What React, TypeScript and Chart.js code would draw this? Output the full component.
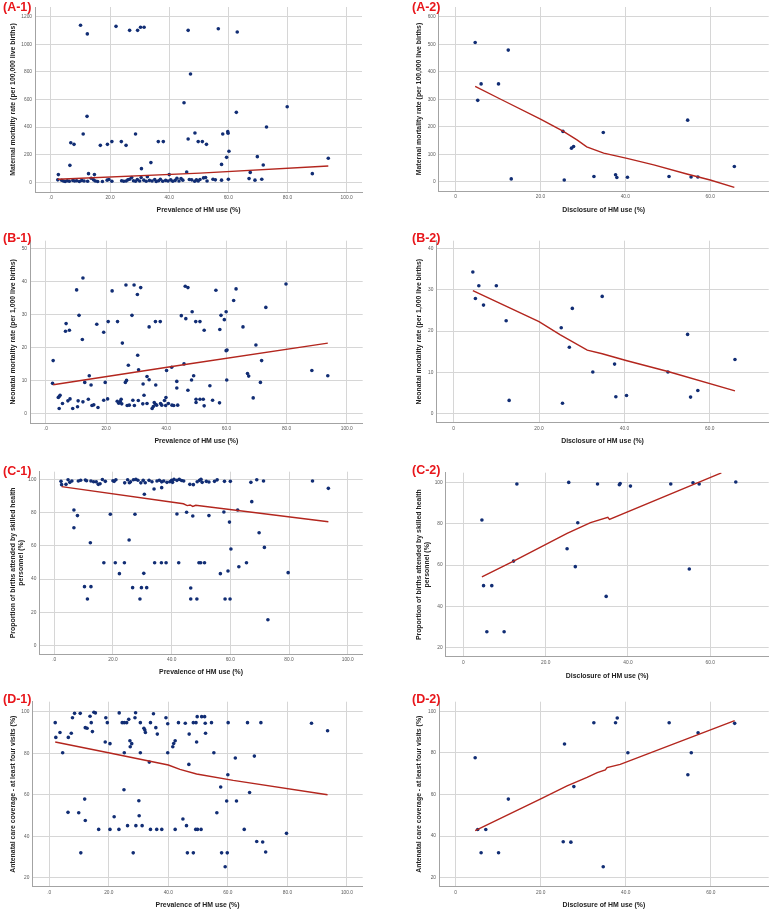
import React, { useEffect, useRef } from 'react';
import { Chart, registerables } from 'chart.js';

Chart.register(...registerables);

const FONT = '"Liberation Sans", Arial, sans-serif';
const POINT_COLOR = '#112d74';
const FIT_COLOR = '#b3261e';
const GRID_COLOR = '#d6d6d6';
const AXIS_COLOR = '#a3a3a3';
const LABEL_RED = '#e8161b';

// ---------- tick values & labels ----------
const xTicksPrev = [0, 20, 40, 60, 80, 100];
const xLabelsPrev = ['.0', '20.0', '40.0', '60.0', '80.0', '100.0'];
const xTicksDisc = [0, 20, 40, 60];
const xLabelsDisc = ['0', '20.0', '40.0', '60.0'];

const yTicksA1 = [0, 200, 400, 600, 800, 1000, 1200];
const yTicksA2 = [0, 100, 200, 300, 400, 500, 600];
const yTicksB1 = [0, 10, 20, 30, 40, 50];
const yTicksB2 = [0, 10, 20, 30, 40];
const yTicksC1 = [0, 20, 40, 60, 80, 100];
const yTicksC2 = [20, 40, 60, 80, 100];
const yTicksD = [20, 40, 60, 80, 100];

// ---------- titles ----------
const xTitlePrev = 'Prevalence of HM use (%)';
const xTitleDisc = 'Disclosure of HM use (%)';
const yTitleA = 'Maternal mortality rate (per 100,000 live births)';
const yTitleB = 'Neonatal mortality rate (per 1,000 live births)';
const yTitleC = ['Proportion of births attended by skilled health', 'personnel (%)'];
const yTitleD = 'Antenatal care coverage - at least four visits (%)';

// ---------- data: [HM use %, outcome] ----------
const a1Points = [
  [10.0, 1138], [12.3, 1075], [22.0, 1130], [26.6, 1101], [29.3, 1101], [30.3, 1123], [31.5, 1123], [46.4, 1101], [56.6, 1113], [63.0, 1089],
  [47.2, 785], [45.0, 577], [79.9, 548], [62.7, 507], [12.2, 478], [72.9, 401], [48.7, 357], [10.9, 350], [28.6, 350], [58.1, 350], [59.8, 367], [59.9, 355], [46.4, 314],
  [6.7, 287], [7.8, 275], [16.7, 268], [19.1, 275], [20.6, 295], [23.8, 295], [25.4, 268], [36.3, 295], [38.0, 295], [49.8, 295], [51.2, 295], [52.6, 275],
  [60.2, 225], [59.4, 181], [69.8, 186], [93.8, 174], [33.8, 143], [57.7, 130], [6.4, 123], [71.8, 126], [30.6, 99], [45.9, 75], [67.4, 72], [88.4, 63], [12.7, 63], [2.5, 56], [14.7, 56], [40.0, 56],
  [2.3, 18], [3.6, 15], [4.2, 10], [4.8, 6], [5.5, 12], [6.2, 8], [7.4, 14], [8.0, 10], [8.7, 12], [9.6, 6], [10.4, 14], [11.2, 10], [12.4, 8], [13.6, 30], [14.4, 18], [15.0, 10], [15.8, 6], [17.4, 6],
  [19.0, 16], [19.6, 20], [20.6, 8], [23.9, 12], [24.6, 8], [25.4, 10], [26.0, 18], [26.6, 22], [27.3, 35], [27.9, 12], [28.6, 8], [29.2, 20], [30.0, 10], [30.5, 35], [31.4, 16], [32.2, 8], [32.6, 40],
  [33.3, 14], [34.2, 10], [35.1, 20], [35.6, 6], [36.4, 12], [37.0, 22], [37.8, 8], [38.8, 14], [39.6, 10], [40.5, 18], [41.2, 8], [42.0, 14], [42.6, 30], [43.3, 10], [44.0, 28], [44.6, 16],
  [46.8, 20], [47.6, 18], [48.6, 8], [49.2, 18], [49.8, 10], [50.4, 20], [51.6, 32], [52.3, 35], [52.8, 10], [54.8, 22], [55.6, 18], [57.7, 16], [60.0, 22], [67.0, 27], [69.0, 16], [71.3, 22],
];
const a1Fit = [[2.3, 22], [50.4, 67], [93.8, 118]];

const a2Points = [
  [4.6, 507], [12.4, 479], [6.0, 356], [10.1, 356], [5.2, 296], [13.1, 10], [25.3, 183], [25.6, 6], [27.3, 122], [27.8, 128],
  [34.8, 179], [32.6, 19], [37.7, 25], [38.0, 15], [40.5, 16], [50.3, 19], [54.7, 224], [55.5, 17], [57.1, 17], [65.7, 55],
];
const a2Fit = [[4.6, 347], [10.5, 301], [20.0, 228], [25.3, 184], [28.6, 152], [30.9, 127], [34.9, 104], [40.4, 85], [46.7, 61], [54.5, 28], [60.0, 6], [65.7, -21]];

const b1Points = [
  [2.4, 16.1], [2.2, 9.2], [12.3, 41.1], [10.2, 37.5], [11.0, 29.8], [6.7, 27.3], [6.5, 25.0], [7.8, 25.3], [12.1, 22.5], [16.9, 27.1], [19.2, 24.7], [22.0, 37.2], [20.7, 27.9], [23.8, 27.9],
  [26.6, 39.0], [29.3, 39.0], [30.4, 36.1], [31.5, 38.2], [28.6, 29.8], [25.4, 21.4], [30.5, 17.7], [27.4, 14.7], [30.8, 13.3], [34.3, 26.3], [36.4, 27.9], [38.0, 27.9],
  [46.3, 38.6], [47.2, 38.2], [45.0, 29.7], [46.5, 28.8], [48.6, 30.9], [49.8, 27.9], [51.2, 27.9], [52.6, 25.3], [56.5, 37.4], [62.4, 34.3], [63.2, 37.8], [58.2, 29.8], [59.3, 28.5],
  [59.9, 30.9], [57.8, 25.5], [59.9, 19.1], [60.2, 19.3], [65.5, 26.3], [73.1, 32.2], [79.8, 39.3], [69.8, 20.8], [71.7, 16.1], [67.0, 12.2], [67.4, 11.4], [71.3, 9.5], [68.9, 4.8],
  [60.1, 10.2], [88.4, 13.1], [93.7, 11.5], [45.9, 15.1], [41.8, 14.1], [40.1, 13.1], [33.6, 11.3], [34.3, 10.3], [32.3, 9.0], [32.6, 5.6], [26.4, 9.5], [26.8, 10.1], [19.7, 9.5],
  [12.9, 9.5], [14.4, 11.5], [15.0, 8.7], [36.5, 8.7], [43.5, 9.8], [43.5, 7.8], [48.4, 10.2], [49.1, 11.5], [47.2, 7.1], [54.5, 8.5],
  [4.4, 5.2], [4.1, 4.9], [4.7, 5.6], [4.4, 1.6], [5.5, 3.1], [7.3, 3.9], [8.0, 4.5], [8.9, 1.6], [10.5, 2.1], [10.7, 3.9], [12.3, 3.6], [14.1, 4.4], [15.3, 2.5], [15.9, 2.7],
  [17.3, 1.9], [19.2, 4.1], [20.5, 4.5], [23.7, 3.8], [24.2, 3.2], [24.7, 3.7], [25.0, 4.4], [25.2, 3.0], [27.0, 2.5], [27.7, 2.6], [28.9, 4.1], [29.4, 2.5], [30.7, 4.0],
  [32.2, 3.0], [33.6, 3.1], [35.3, 1.6], [35.7, 2.2], [36.0, 3.4], [36.4, 2.9], [36.8, 2.6], [38.1, 3.1], [38.5, 2.6], [39.4, 4.0], [39.8, 2.5], [39.9, 4.9], [40.7, 3.1],
  [41.9, 2.6], [42.5, 2.5], [43.8, 2.6], [49.9, 3.4], [49.9, 4.4], [51.2, 4.4], [52.3, 4.4], [52.6, 2.4], [55.4, 4.1], [57.7, 3.3],
];
const b1Fit = [[2.4, 8.8], [46.8, 15.0], [93.7, 21.4]];

const b2Points = [
  [4.5, 34.3], [5.9, 31.0], [10.0, 31.0], [5.1, 27.9], [7.0, 26.3], [12.3, 22.5], [13.0, 3.2], [25.2, 20.8], [25.5, 2.5], [27.1, 16.1], [27.8, 25.5],
  [34.8, 28.4], [32.6, 10.1], [37.7, 12.0], [38.0, 4.1], [40.5, 4.4], [50.2, 10.1], [54.8, 19.2], [55.5, 4.0], [57.2, 5.6], [65.9, 13.1],
];
const b2Fit = [[4.5, 29.8], [20.0, 22.3], [25.0, 19.1], [31.3, 15.4], [34.8, 14.5], [40.6, 12.8], [50.2, 10.2], [65.9, 5.5]];

const c1Points = [
  [2.3, 98.8], [2.5, 96.8], [4.0, 97.0], [4.7, 99.8], [5.3, 98.2], [6.0, 99.0], [8.2, 99.0], [9.0, 99.5], [10.6, 99.6], [11.0, 99.2], [12.5, 99.0], [13.4, 98.6], [14.3, 98.5],
  [15.0, 97.0], [15.6, 97.4], [16.4, 99.9], [17.4, 98.8], [20.0, 99.2], [20.4, 98.8], [21.0, 99.8], [24.0, 97.9], [25.0, 99.8], [25.6, 98.0], [26.0, 98.6], [27.0, 99.8],
  [27.8, 100], [28.5, 99.5], [29.5, 97.9], [30.3, 99.4], [31.0, 98.0], [32.3, 99.4], [33.3, 98.6], [35.0, 99.0], [35.8, 99.5], [36.6, 98.5], [37.3, 99.0], [38.4, 98.2],
  [39.4, 98.6], [40.0, 99.5], [40.3, 98.2], [40.8, 100], [41.8, 99.4], [42.6, 100], [43.4, 99.3], [44.1, 99.0], [46.2, 97.0], [47.4, 96.8], [48.7, 98.6], [49.5, 99.4],
  [50.0, 100], [50.4, 98.2], [51.8, 98.8], [52.7, 98.4], [54.6, 98.8], [55.5, 99.7], [58.0, 98.8], [60.0, 98.8], [67.0, 98.2], [69.0, 99.8], [71.3, 99.0], [88.0, 99.0],
  [6.7, 81.6], [7.9, 78.2], [6.7, 70.9], [19.1, 79.0], [27.5, 79.0], [12.3, 61.9], [25.5, 63.5], [16.9, 49.9], [20.8, 49.9], [23.9, 49.9], [22.2, 43.3], [30.5, 43.5],
  [10.3, 35.5], [12.5, 35.5], [11.3, 28.1], [26.7, 34.9], [29.7, 34.9], [31.5, 34.9], [29.2, 28.1], [30.7, 91.0], [34.2, 49.9], [36.5, 49.9], [38.1, 49.9], [42.4, 49.9],
  [36.6, 95.0], [34.0, 94.2], [41.8, 79.2], [45.1, 80.2], [47.2, 78.0], [52.7, 78.2], [46.5, 34.7], [46.5, 28.1], [48.6, 28.1], [49.3, 49.9], [49.9, 49.9], [51.2, 49.9],
  [57.8, 80.4], [59.7, 74.3], [60.2, 58.1], [56.6, 43.3], [59.2, 44.9], [58.2, 28.1], [59.9, 28.1], [62.5, 81.6], [62.9, 47.5], [65.5, 49.9], [67.3, 86.6], [69.8, 67.9],
  [71.6, 59.1], [72.8, 15.6], [79.7, 43.9], [93.4, 94.6],
];
const c1Fit = [[2.5, 95.6], [44.0, 85.3], [45.3, 84.2], [46.3, 84.6], [47.2, 83.7], [48.2, 84.4], [93.4, 74.5]];

const c2Points = [
  [13.0, 99.2], [25.6, 100], [32.6, 99.2], [37.9, 98.9], [38.1, 99.5], [40.6, 98.2], [50.4, 99.2], [55.8, 99.8], [57.3, 99.2], [66.2, 100.2],
  [4.5, 81.8], [27.8, 80.5], [12.2, 61.9], [25.2, 67.9], [27.2, 59.2], [54.9, 58.1], [4.9, 50.0], [6.9, 50.0], [34.7, 44.8], [5.7, 27.7], [9.9, 27.7],
];
const c2Fit = [[4.5, 54.2], [12.2, 61.9], [25.2, 75.3], [30.9, 80.5], [35.1, 83.1], [35.5, 82.1], [62.7, 104.6]];

const d1Points = [
  [2.0, 94.7], [2.2, 87.6], [3.6, 90.0], [4.5, 80.2], [6.4, 87.6], [7.4, 89.6], [7.8, 97.1], [8.5, 99.2], [10.4, 99.2], [12.1, 92.3], [12.7, 92.0], [13.7, 97.8], [14.1, 94.7],
  [14.5, 90.4], [15.0, 99.7], [15.5, 99.4], [18.8, 85.4], [19.0, 97.1], [19.5, 94.7], [20.4, 84.6], [23.5, 99.4], [24.5, 94.7], [25.2, 94.7], [26.0, 94.7], [26.7, 96.3],
  [27.1, 86.0], [27.2, 83.1], [27.7, 84.6], [25.2, 80.2], [28.8, 97.1], [29.0, 99.5], [30.6, 94.7], [31.8, 92.0], [32.1, 91.2], [32.3, 90.0], [30.6, 80.2], [33.6, 75.7],
  [34.0, 94.7], [35.0, 99.0], [35.8, 92.3], [36.3, 89.2], [39.2, 97.1], [39.8, 94.2], [39.8, 80.2], [43.4, 94.7], [41.5, 83.1], [41.8, 84.7], [42.3, 86.0], [45.7, 94.4],
  [47.0, 89.2], [46.9, 74.6], [48.4, 94.7], [49.3, 94.7], [49.7, 97.6], [49.5, 85.4], [51.2, 97.6], [52.2, 97.6], [52.4, 94.4], [52.5, 89.6], [54.5, 94.7], [55.3, 80.2],
  [60.1, 94.7], [66.6, 94.7], [71.1, 94.7], [62.5, 77.7], [68.9, 78.6], [60.0, 69.6], [57.6, 63.7], [67.3, 61.1], [88.1, 94.4], [93.5, 90.8], [56.3, 51.3], [59.6, 57.0],
  [62.9, 57.0], [65.5, 43.3], [79.7, 41.4], [69.7, 37.5], [71.7, 37.2], [72.7, 32.4], [44.9, 48.3], [46.1, 45.1], [42.3, 43.3], [49.2, 43.3], [49.8, 43.3], [51.0, 43.3],
  [34.0, 43.3], [36.1, 43.3], [37.8, 43.3], [16.6, 43.3], [20.4, 43.3], [23.4, 43.3], [26.3, 45.1], [29.1, 45.1], [31.2, 45.1], [21.8, 49.4], [30.1, 57.1], [30.2, 49.9],
  [25.1, 62.4], [11.9, 57.9], [12.1, 47.6], [6.3, 51.5], [9.9, 51.3], [10.6, 32.0], [28.2, 32.0], [46.4, 32.0], [48.4, 32.0], [57.9, 32.0], [59.8, 32.0], [59.1, 25.3],
];
const d1Fit = [[2.0, 85.4], [19.9, 80.2], [40.0, 74.3], [43.9, 72.2], [49.5, 70.0], [61.8, 66.9], [93.5, 60.0]];

const d2Points = [
  [4.6, 77.7], [5.2, 43.2], [7.1, 43.2], [6.0, 32.0], [10.1, 32.0], [12.4, 57.8], [25.3, 37.3], [27.1, 37.1], [25.6, 84.3], [27.8, 63.8],
  [32.5, 94.5], [34.7, 25.3], [37.6, 94.5], [38.0, 96.8], [40.5, 80.1], [50.2, 94.5], [54.6, 69.5], [55.4, 80.1], [57.0, 89.7], [65.6, 94.2],
];
const d2Fit = [[4.6, 42.6], [19.9, 57.8], [26.2, 64.1], [30.9, 68.2], [33.3, 70.5], [35.2, 71.8], [35.6, 72.9], [38.7, 74.5], [65.6, 95.5]];

type PanelCfg = {
  label: string;
  labelX: number;
  labelY: number;
  left: number;
  top: number;
  width: number;
  height: number;
  plot: { left: number; top: number; right: number; bottom: number };
  xMin: number; xMax: number; yMin: number; yMax: number;
  xTicks: number[]; xLabels: string[];
  yTicks: number[];
  xTitle: string; yTitle: string | string[];
  xTitleY: number; yTitleX: number;
  points: number[][]; fit: number[][];
};

const panels: PanelCfg[] = [
  {
    label: '(A-1)', labelX: 3, labelY: 1, left: 0, top: 0, width: 387, height: 220,
    plot: { left: 35, top: 7, right: 362, bottom: 192 },
    xMin: -5.4, xMax: 105.2, yMin: -70, yMax: 1270,
    xTicks: xTicksPrev, xLabels: xLabelsPrev, yTicks: yTicksA1,
    xTitle: xTitlePrev, yTitle: yTitleA, xTitleY: 210, yTitleX: 13,
    points: a1Points, fit: a1Fit,
  },
  {
    label: '(A-2)', labelX: 412, labelY: 1, left: 387, top: 0, width: 387, height: 220,
    plot: { left: 51.7, top: 7, right: 381.7, bottom: 191 },
    xMin: -4.0, xMax: 73.8, yMin: -34, yMax: 636,
    xTicks: xTicksDisc, xLabels: xLabelsDisc, yTicks: yTicksA2,
    xTitle: xTitleDisc, yTitle: yTitleA, xTitleY: 210, yTitleX: 32.3,
    points: a2Points, fit: a2Fit,
  },
  {
    label: '(B-1)', labelX: 3, labelY: 232, left: 0, top: 220, width: 387, height: 230,
    plot: { left: 30, top: 20.7, right: 362.7, bottom: 203 },
    xMin: -5.3, xMax: 105.3, yMin: -2.8, yMax: 52.4,
    xTicks: xTicksPrev, xLabels: xLabelsPrev, yTicks: yTicksB1,
    xTitle: xTitlePrev, yTitle: yTitleB, xTitleY: 221, yTitleX: 12.7,
    points: b1Points, fit: b1Fit,
  },
  {
    label: '(B-2)', labelX: 412, labelY: 232, left: 387, top: 220, width: 387, height: 230,
    plot: { left: 49.3, top: 20.7, right: 381.7, bottom: 202.7 },
    xMin: -4.06, xMax: 73.8, yMin: -2.2, yMax: 41.9,
    xTicks: xTicksDisc, xLabels: xLabelsDisc, yTicks: yTicksB2,
    xTitle: xTitleDisc, yTitle: yTitleB, xTitleY: 221, yTitleX: 32.3,
    points: b2Points, fit: b2Fit,
  },
  {
    label: '(C-1)', labelX: 3, labelY: 465, left: 0, top: 450, width: 387, height: 230,
    plot: { left: 39.3, top: 21.7, right: 362.7, bottom: 204 },
    xMin: -5.1, xMax: 105.1, yMin: -5.0, yMax: 104.6,
    xTicks: xTicksPrev, xLabels: xLabelsPrev, yTicks: yTicksC1,
    xTitle: xTitlePrev, yTitle: yTitleC, xTitleY: 221.7, yTitleX: 12.7,
    points: c1Points, fit: c1Fit,
  },
  {
    label: '(C-2)', labelX: 412, labelY: 464, left: 387, top: 450, width: 387, height: 230,
    plot: { left: 58.7, top: 22.7, right: 381.7, bottom: 206.7 },
    xMin: -4.3, xMax: 74.2, yMin: 15.6, yMax: 104.7,
    xTicks: xTicksDisc, xLabels: xLabelsDisc, yTicks: yTicksC2,
    xTitle: xTitleDisc, yTitle: yTitleC, xTitleY: 225.7, yTitleX: 32.3,
    points: c2Points, fit: c2Fit,
  },
  {
    label: '(D-1)', labelX: 3, labelY: 693, left: 0, top: 680, width: 387, height: 236,
    plot: { left: 32.3, top: 21.7, right: 362.7, bottom: 206.7 },
    xMin: -5.7, xMax: 105.3, yMin: 15.7, yMax: 104.8,
    xTicks: xTicksPrev, xLabels: xLabelsPrev, yTicks: yTicksD,
    xTitle: xTitlePrev, yTitle: yTitleD, xTitleY: 225, yTitleX: 12.7,
    points: d1Points, fit: d1Fit,
  },
  {
    label: '(D-2)', labelX: 412, labelY: 693, left: 387, top: 680, width: 387, height: 236,
    plot: { left: 52, top: 21.7, right: 381.7, bottom: 206.7 },
    xMin: -3.9, xMax: 73.6, yMin: 15.7, yMax: 104.6,
    xTicks: xTicksDisc, xLabels: xLabelsDisc, yTicks: yTicksD,
    xTitle: xTitleDisc, yTitle: yTitleD, xTitleY: 225, yTitleX: 32.3,
    points: d2Points, fit: d2Fit,
  },
];

const TITLE_SIZE = 6.9;
const TITLE_LH = TITLE_SIZE * 1.2;
const TICK_SIZE = 4.8;

function Panel({ cfg }: { cfg: PanelCfg }) {
  const ref = useRef<HTMLCanvasElement>(null);
  useEffect(() => {
    const c = cfg;
    const chart = new Chart(ref.current as HTMLCanvasElement, {
      type: 'scatter',
      data: {
        datasets: [
          {
            data: c.fit.map(([x, y]) => ({ x, y })),
            showLine: true,
            borderColor: FIT_COLOR,
            backgroundColor: FIT_COLOR,
            borderWidth: 1.4,
            pointRadius: 0,
            tension: 0,
            order: 0,
          },
          {
            data: c.points.map(([x, y]) => ({ x, y })),
            backgroundColor: POINT_COLOR,
            borderColor: POINT_COLOR,
            pointRadius: 1.8,
            pointBorderWidth: 0,
            showLine: false,
            order: 1,
          },
        ],
      } as any,
      options: {
        animation: false,
        responsive: false,
        maintainAspectRatio: false,
        layout: { padding: { top: c.plot.top, right: c.width - c.plot.right, left: 0, bottom: 0 } },
        plugins: { legend: { display: false }, tooltip: { enabled: false } },
        scales: {
          x: {
            type: 'linear',
            position: 'bottom',
            min: c.xMin,
            max: c.xMax,
            afterBuildTicks: (s: any) => { s.ticks = c.xTicks.map((v) => ({ value: v })); },
            afterFit: (s: any) => { s.height = c.height - c.plot.bottom; },
            grid: { color: GRID_COLOR, lineWidth: 1, drawTicks: false },
            border: { color: AXIS_COLOR, width: 1 },
            ticks: {
              font: { family: FONT, size: TICK_SIZE },
              color: '#5a5a5a',
              padding: 3,
              autoSkip: false,
              maxRotation: 0,
              callback: (v: any) => c.xLabels[c.xTicks.indexOf(Number(v))] ?? '',
            },
            title: {
              display: true,
              text: c.xTitle,
              color: '#222222',
              font: { family: FONT, size: TITLE_SIZE, weight: 'bold' },
              padding: { top: 0, bottom: c.height - c.xTitleY - TITLE_LH / 2 },
            },
          },
          y: {
            type: 'linear',
            position: 'left',
            min: c.yMin,
            max: c.yMax,
            afterBuildTicks: (s: any) => { s.ticks = c.yTicks.map((v) => ({ value: v })); },
            afterFit: (s: any) => { s.width = c.plot.left; },
            grid: { color: GRID_COLOR, lineWidth: 1, drawTicks: false },
            border: { color: AXIS_COLOR, width: 1 },
            ticks: {
              font: { family: FONT, size: TICK_SIZE },
              color: '#5a5a5a',
              padding: 3,
              autoSkip: false,
              callback: (v: any) => String(v),
            },
            title: {
              display: true,
              text: c.yTitle as any,
              color: '#222222',
              font: { family: FONT, size: TITLE_SIZE, weight: 'bold' },
              padding: { top: c.yTitleX - TITLE_LH / 2, bottom: 0 },
            },
          },
        },
      } as any,
    });
    return () => chart.destroy();
  }, [cfg]);

  return (
    <>
      <canvas
        ref={ref}
        width={cfg.width}
        height={cfg.height}
        style={{ position: 'absolute', left: cfg.left, top: cfg.top, width: cfg.width, height: cfg.height }}
      />
      <div
        style={{
          position: 'absolute',
          left: cfg.labelX,
          top: cfg.labelY,
          fontFamily: FONT,
          fontWeight: 'bold',
          fontSize: 12.5,
          lineHeight: '13px',
          color: LABEL_RED,
          whiteSpace: 'nowrap',
        }}
      >
        {cfg.label}
      </div>
    </>
  );
}

export default function App() {
  return (
    <div style={{ position: 'absolute', left: 0, top: 0, width: 774, height: 916, background: '#ffffff', overflow: 'hidden' }}>
      {panels.map((p) => (
        <Panel key={p.label} cfg={p} />
      ))}
    </div>
  );
}
